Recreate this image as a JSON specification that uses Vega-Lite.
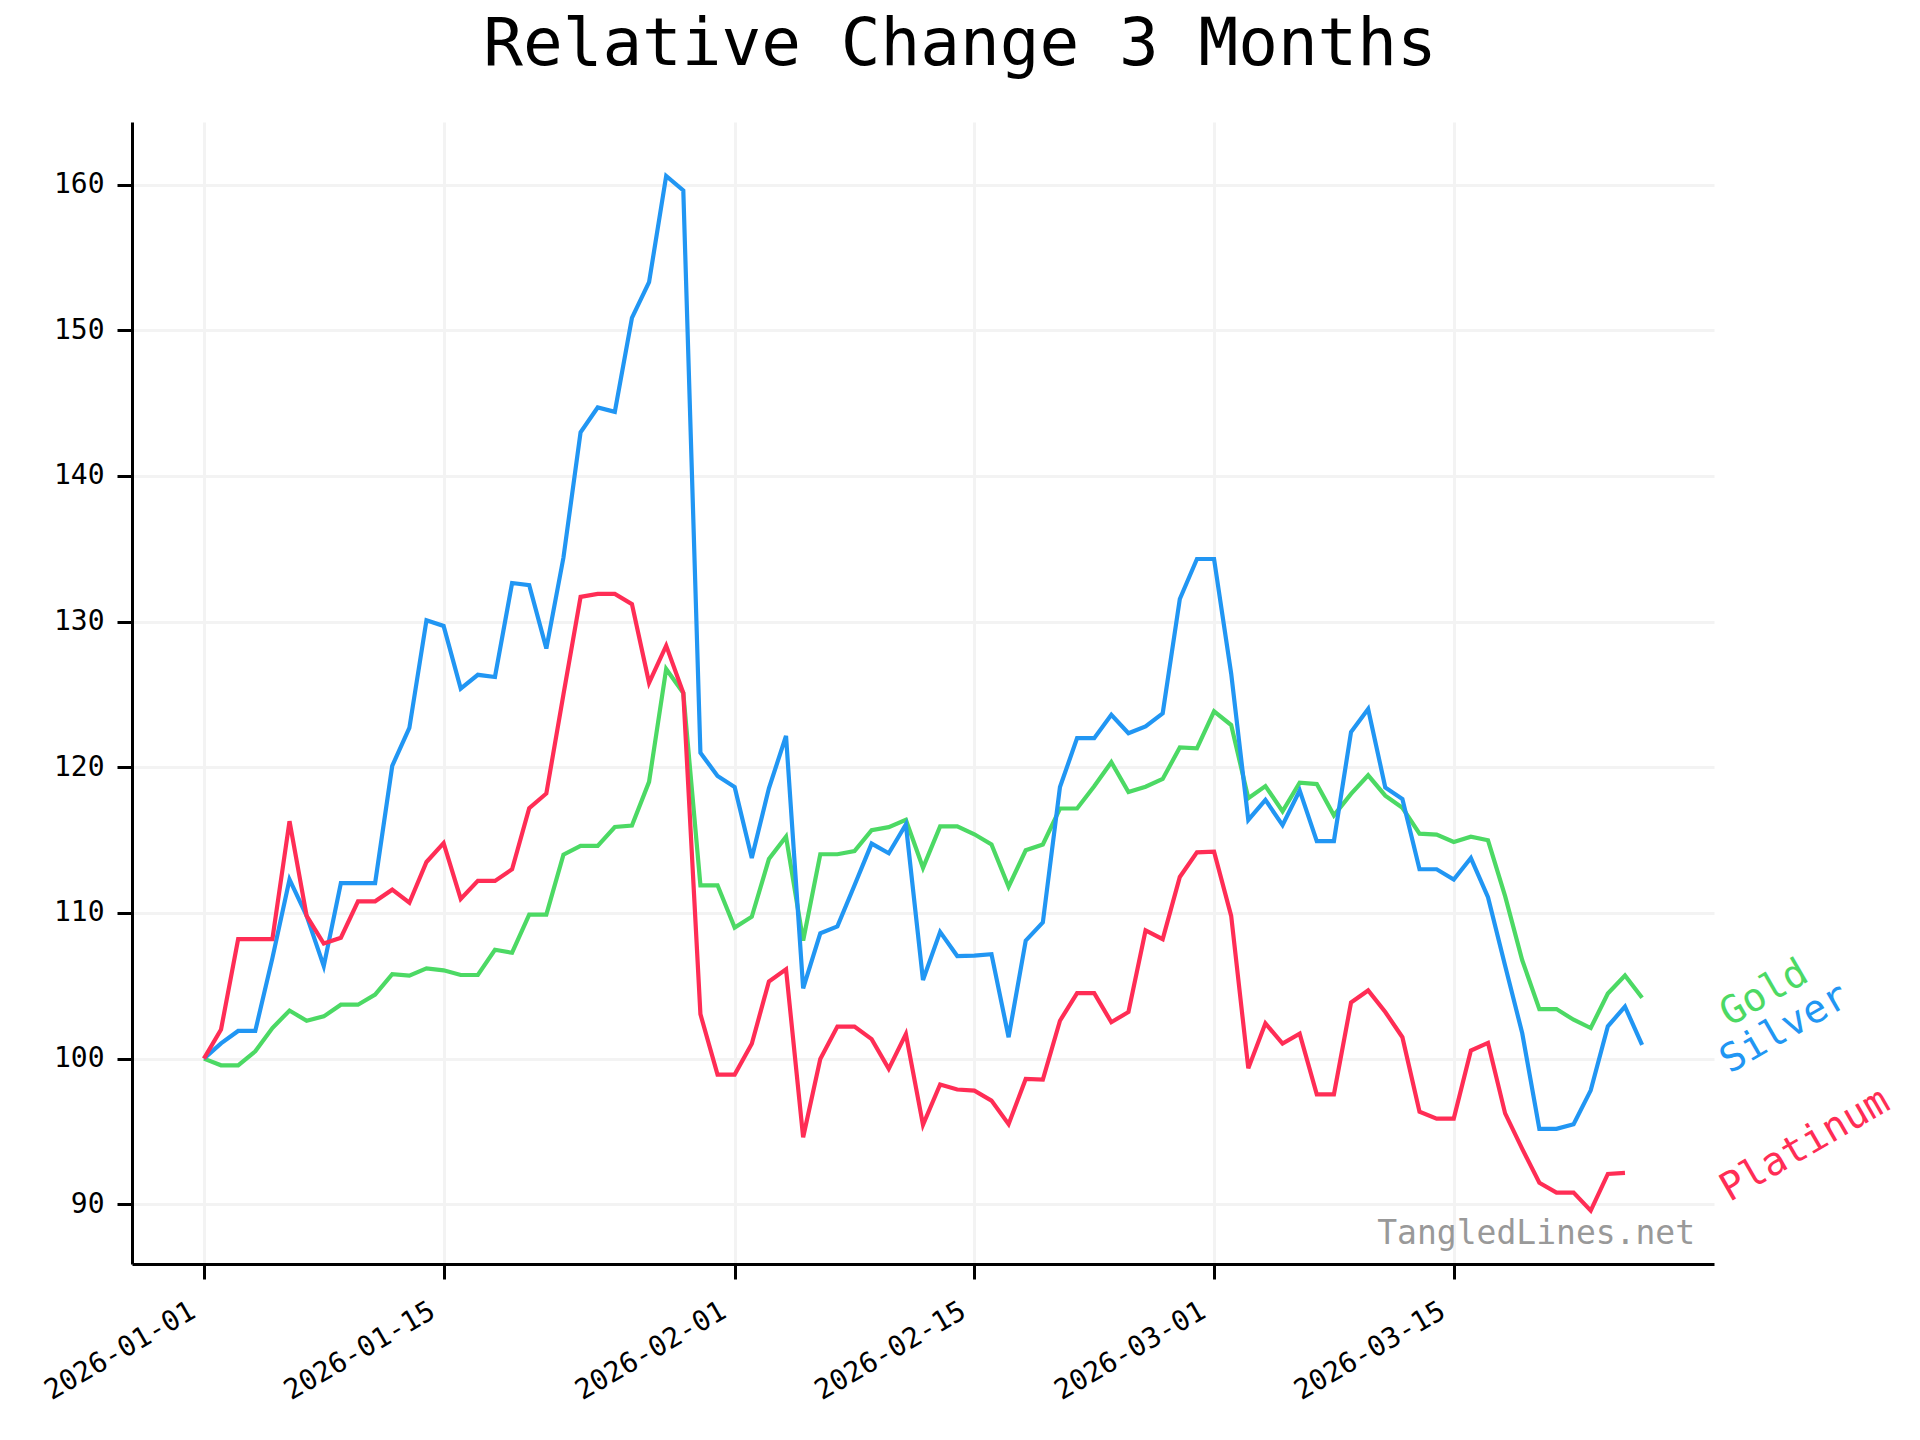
{
  "$schema": "https://vega.github.io/schema/vega-lite/v6.json",
  "autosize": {"type": "none"},
  "width": 1582,
  "height": 1142,
  "padding": {"left": 132, "top": 122, "right": 206, "bottom": 176},
  "background": "white",
  "title": {
    "text": "Relative Change 3 Months",
    "font": "DejaVu Sans Mono",
    "fontSize": 66,
    "fontWeight": "normal",
    "color": "black",
    "anchor": "middle",
    "frame": "group",
    "dx": 37,
    "dy": 66,
    "offset": 57,
    "baseline": "alphabetic"
  },
  "config": {
    "view": {"stroke": null},
    "axis": {
      "labelFont": "DejaVu Sans Mono",
      "labelFontSize": 28,
      "labelColor": "black",
      "domainColor": "black",
      "domainWidth": 3,
      "tickColor": "black",
      "tickWidth": 3,
      "tickSize": 15,
      "gridColor": "#f3f3f3",
      "gridWidth": 3,
      "title": null
    }
  },
  "data": {
    "values": [
      {"date": "2026-01-01", "series": "Gold", "value": 100},
      {"date": "2026-01-02", "series": "Gold", "value": 99.54},
      {"date": "2026-01-03", "series": "Gold", "value": 99.54},
      {"date": "2026-01-04", "series": "Gold", "value": 100.5},
      {"date": "2026-01-05", "series": "Gold", "value": 102.1},
      {"date": "2026-01-06", "series": "Gold", "value": 103.3},
      {"date": "2026-01-07", "series": "Gold", "value": 102.6},
      {"date": "2026-01-08", "series": "Gold", "value": 102.9},
      {"date": "2026-01-09", "series": "Gold", "value": 103.7},
      {"date": "2026-01-10", "series": "Gold", "value": 103.7},
      {"date": "2026-01-11", "series": "Gold", "value": 104.4},
      {"date": "2026-01-12", "series": "Gold", "value": 105.8},
      {"date": "2026-01-13", "series": "Gold", "value": 105.7},
      {"date": "2026-01-14", "series": "Gold", "value": 106.2},
      {"date": "2026-01-15", "series": "Gold", "value": 106.06},
      {"date": "2026-01-16", "series": "Gold", "value": 105.74},
      {"date": "2026-01-17", "series": "Gold", "value": 105.74},
      {"date": "2026-01-18", "series": "Gold", "value": 107.47},
      {"date": "2026-01-19", "series": "Gold", "value": 107.27},
      {"date": "2026-01-20", "series": "Gold", "value": 109.88},
      {"date": "2026-01-21", "series": "Gold", "value": 109.88},
      {"date": "2026-01-22", "series": "Gold", "value": 114.0},
      {"date": "2026-01-23", "series": "Gold", "value": 114.6},
      {"date": "2026-01-24", "series": "Gold", "value": 114.6},
      {"date": "2026-01-25", "series": "Gold", "value": 115.9},
      {"date": "2026-01-26", "series": "Gold", "value": 116.0},
      {"date": "2026-01-27", "series": "Gold", "value": 119.0},
      {"date": "2026-01-28", "series": "Gold", "value": 126.75},
      {"date": "2026-01-29", "series": "Gold", "value": 125.1},
      {"date": "2026-01-30", "series": "Gold", "value": 111.9},
      {"date": "2026-01-31", "series": "Gold", "value": 111.9},
      {"date": "2026-02-01", "series": "Gold", "value": 109.0},
      {"date": "2026-02-02", "series": "Gold", "value": 109.74},
      {"date": "2026-02-03", "series": "Gold", "value": 113.7},
      {"date": "2026-02-04", "series": "Gold", "value": 115.24},
      {"date": "2026-02-05", "series": "Gold", "value": 108.1},
      {"date": "2026-02-06", "series": "Gold", "value": 114.03},
      {"date": "2026-02-07", "series": "Gold", "value": 114.03},
      {"date": "2026-02-08", "series": "Gold", "value": 114.24},
      {"date": "2026-02-09", "series": "Gold", "value": 115.68},
      {"date": "2026-02-10", "series": "Gold", "value": 115.89},
      {"date": "2026-02-11", "series": "Gold", "value": 116.39},
      {"date": "2026-02-12", "series": "Gold", "value": 113.1},
      {"date": "2026-02-13", "series": "Gold", "value": 115.94},
      {"date": "2026-02-14", "series": "Gold", "value": 115.94},
      {"date": "2026-02-15", "series": "Gold", "value": 115.4},
      {"date": "2026-02-16", "series": "Gold", "value": 114.7},
      {"date": "2026-02-17", "series": "Gold", "value": 111.8},
      {"date": "2026-02-18", "series": "Gold", "value": 114.3},
      {"date": "2026-02-19", "series": "Gold", "value": 114.7},
      {"date": "2026-02-20", "series": "Gold", "value": 117.17},
      {"date": "2026-02-21", "series": "Gold", "value": 117.17},
      {"date": "2026-02-22", "series": "Gold", "value": 118.7},
      {"date": "2026-02-23", "series": "Gold", "value": 120.35},
      {"date": "2026-02-24", "series": "Gold", "value": 118.3},
      {"date": "2026-02-25", "series": "Gold", "value": 118.67},
      {"date": "2026-02-26", "series": "Gold", "value": 119.2},
      {"date": "2026-02-27", "series": "Gold", "value": 121.36},
      {"date": "2026-02-28", "series": "Gold", "value": 121.3},
      {"date": "2026-03-01", "series": "Gold", "value": 123.84},
      {"date": "2026-03-02", "series": "Gold", "value": 122.9},
      {"date": "2026-03-03", "series": "Gold", "value": 117.88},
      {"date": "2026-03-04", "series": "Gold", "value": 118.71},
      {"date": "2026-03-05", "series": "Gold", "value": 116.98},
      {"date": "2026-03-06", "series": "Gold", "value": 118.94},
      {"date": "2026-03-07", "series": "Gold", "value": 118.85},
      {"date": "2026-03-08", "series": "Gold", "value": 116.7},
      {"date": "2026-03-09", "series": "Gold", "value": 118.17},
      {"date": "2026-03-10", "series": "Gold", "value": 119.45},
      {"date": "2026-03-11", "series": "Gold", "value": 118.05},
      {"date": "2026-03-12", "series": "Gold", "value": 117.22},
      {"date": "2026-03-13", "series": "Gold", "value": 115.44},
      {"date": "2026-03-14", "series": "Gold", "value": 115.38},
      {"date": "2026-03-15", "series": "Gold", "value": 114.87},
      {"date": "2026-03-16", "series": "Gold", "value": 115.23},
      {"date": "2026-03-17", "series": "Gold", "value": 114.99},
      {"date": "2026-03-18", "series": "Gold", "value": 111.15},
      {"date": "2026-03-19", "series": "Gold", "value": 106.75},
      {"date": "2026-03-20", "series": "Gold", "value": 103.4},
      {"date": "2026-03-21", "series": "Gold", "value": 103.4},
      {"date": "2026-03-22", "series": "Gold", "value": 102.67},
      {"date": "2026-03-23", "series": "Gold", "value": 102.1},
      {"date": "2026-03-24", "series": "Gold", "value": 104.47},
      {"date": "2026-03-25", "series": "Gold", "value": 105.7},
      {"date": "2026-03-26", "series": "Gold", "value": 104.18},

      {"date": "2026-01-01", "series": "Silver", "value": 100},
      {"date": "2026-01-02", "series": "Silver", "value": 101.05},
      {"date": "2026-01-03", "series": "Silver", "value": 101.9},
      {"date": "2026-01-04", "series": "Silver", "value": 101.9},
      {"date": "2026-01-05", "series": "Silver", "value": 106.9},
      {"date": "2026-01-06", "series": "Silver", "value": 112.3},
      {"date": "2026-01-07", "series": "Silver", "value": 109.8},
      {"date": "2026-01-08", "series": "Silver", "value": 106.35},
      {"date": "2026-01-09", "series": "Silver", "value": 112.05},
      {"date": "2026-01-10", "series": "Silver", "value": 112.05},
      {"date": "2026-01-11", "series": "Silver", "value": 112.05},
      {"date": "2026-01-12", "series": "Silver", "value": 120.1},
      {"date": "2026-01-13", "series": "Silver", "value": 122.7},
      {"date": "2026-01-14", "series": "Silver", "value": 130.1},
      {"date": "2026-01-15", "series": "Silver", "value": 129.7},
      {"date": "2026-01-16", "series": "Silver", "value": 125.4},
      {"date": "2026-01-17", "series": "Silver", "value": 126.35},
      {"date": "2026-01-18", "series": "Silver", "value": 126.2},
      {"date": "2026-01-19", "series": "Silver", "value": 132.65},
      {"date": "2026-01-20", "series": "Silver", "value": 132.5},
      {"date": "2026-01-21", "series": "Silver", "value": 128.15},
      {"date": "2026-01-22", "series": "Silver", "value": 134.4},
      {"date": "2026-01-23", "series": "Silver", "value": 143.0},
      {"date": "2026-01-24", "series": "Silver", "value": 144.7},
      {"date": "2026-01-25", "series": "Silver", "value": 144.4},
      {"date": "2026-01-26", "series": "Silver", "value": 150.85},
      {"date": "2026-01-27", "series": "Silver", "value": 153.3},
      {"date": "2026-01-28", "series": "Silver", "value": 160.6},
      {"date": "2026-01-29", "series": "Silver", "value": 159.6},
      {"date": "2026-01-30", "series": "Silver", "value": 121.0},
      {"date": "2026-01-31", "series": "Silver", "value": 119.4},
      {"date": "2026-02-01", "series": "Silver", "value": 118.64},
      {"date": "2026-02-02", "series": "Silver", "value": 113.77},
      {"date": "2026-02-03", "series": "Silver", "value": 118.56},
      {"date": "2026-02-04", "series": "Silver", "value": 122.15},
      {"date": "2026-02-05", "series": "Silver", "value": 104.82},
      {"date": "2026-02-06", "series": "Silver", "value": 108.6},
      {"date": "2026-02-07", "series": "Silver", "value": 109.08},
      {"date": "2026-02-08", "series": "Silver", "value": 111.9},
      {"date": "2026-02-09", "series": "Silver", "value": 114.76},
      {"date": "2026-02-10", "series": "Silver", "value": 114.1},
      {"date": "2026-02-11", "series": "Silver", "value": 116.07},
      {"date": "2026-02-12", "series": "Silver", "value": 105.4},
      {"date": "2026-02-13", "series": "Silver", "value": 108.7},
      {"date": "2026-02-14", "series": "Silver", "value": 107.04},
      {"date": "2026-02-15", "series": "Silver", "value": 107.07},
      {"date": "2026-02-16", "series": "Silver", "value": 107.17},
      {"date": "2026-02-17", "series": "Silver", "value": 101.47},
      {"date": "2026-02-18", "series": "Silver", "value": 108.1},
      {"date": "2026-02-19", "series": "Silver", "value": 109.35},
      {"date": "2026-02-20", "series": "Silver", "value": 118.64},
      {"date": "2026-02-21", "series": "Silver", "value": 122.0},
      {"date": "2026-02-22", "series": "Silver", "value": 122.0},
      {"date": "2026-02-23", "series": "Silver", "value": 123.6},
      {"date": "2026-02-24", "series": "Silver", "value": 122.34},
      {"date": "2026-02-25", "series": "Silver", "value": 122.8},
      {"date": "2026-02-26", "series": "Silver", "value": 123.7},
      {"date": "2026-02-27", "series": "Silver", "value": 131.55},
      {"date": "2026-02-28", "series": "Silver", "value": 134.3},
      {"date": "2026-03-01", "series": "Silver", "value": 134.3},
      {"date": "2026-03-02", "series": "Silver", "value": 126.43},
      {"date": "2026-03-03", "series": "Silver", "value": 116.39},
      {"date": "2026-03-04", "series": "Silver", "value": 117.76},
      {"date": "2026-03-05", "series": "Silver", "value": 116.03},
      {"date": "2026-03-06", "series": "Silver", "value": 118.41},
      {"date": "2026-03-07", "series": "Silver", "value": 114.93},
      {"date": "2026-03-08", "series": "Silver", "value": 114.93},
      {"date": "2026-03-09", "series": "Silver", "value": 122.42},
      {"date": "2026-03-10", "series": "Silver", "value": 124.0},
      {"date": "2026-03-11", "series": "Silver", "value": 118.62},
      {"date": "2026-03-12", "series": "Silver", "value": 117.82},
      {"date": "2026-03-13", "series": "Silver", "value": 113.0},
      {"date": "2026-03-14", "series": "Silver", "value": 113.0},
      {"date": "2026-03-15", "series": "Silver", "value": 112.3},
      {"date": "2026-03-16", "series": "Silver", "value": 113.77},
      {"date": "2026-03-17", "series": "Silver", "value": 111.08},
      {"date": "2026-03-18", "series": "Silver", "value": 106.38},
      {"date": "2026-03-19", "series": "Silver", "value": 101.74},
      {"date": "2026-03-20", "series": "Silver", "value": 95.18},
      {"date": "2026-03-21", "series": "Silver", "value": 95.18},
      {"date": "2026-03-22", "series": "Silver", "value": 95.5},
      {"date": "2026-03-23", "series": "Silver", "value": 97.82},
      {"date": "2026-03-24", "series": "Silver", "value": 102.22},
      {"date": "2026-03-25", "series": "Silver", "value": 103.57},
      {"date": "2026-03-26", "series": "Silver", "value": 100.95},

      {"date": "2026-01-01", "series": "Platinum", "value": 100},
      {"date": "2026-01-02", "series": "Platinum", "value": 102.0},
      {"date": "2026-01-03", "series": "Platinum", "value": 108.2},
      {"date": "2026-01-04", "series": "Platinum", "value": 108.2},
      {"date": "2026-01-05", "series": "Platinum", "value": 108.2},
      {"date": "2026-01-06", "series": "Platinum", "value": 116.3},
      {"date": "2026-01-07", "series": "Platinum", "value": 109.8},
      {"date": "2026-01-08", "series": "Platinum", "value": 107.9},
      {"date": "2026-01-09", "series": "Platinum", "value": 108.3},
      {"date": "2026-01-10", "series": "Platinum", "value": 110.8},
      {"date": "2026-01-11", "series": "Platinum", "value": 110.8},
      {"date": "2026-01-12", "series": "Platinum", "value": 111.6},
      {"date": "2026-01-13", "series": "Platinum", "value": 110.7},
      {"date": "2026-01-14", "series": "Platinum", "value": 113.5},
      {"date": "2026-01-15", "series": "Platinum", "value": 114.8},
      {"date": "2026-01-16", "series": "Platinum", "value": 110.96},
      {"date": "2026-01-17", "series": "Platinum", "value": 112.2},
      {"date": "2026-01-18", "series": "Platinum", "value": 112.2},
      {"date": "2026-01-19", "series": "Platinum", "value": 113.0},
      {"date": "2026-01-20", "series": "Platinum", "value": 117.2},
      {"date": "2026-01-21", "series": "Platinum", "value": 118.2},
      {"date": "2026-01-22", "series": "Platinum", "value": 125.0},
      {"date": "2026-01-23", "series": "Platinum", "value": 131.7},
      {"date": "2026-01-24", "series": "Platinum", "value": 131.9},
      {"date": "2026-01-25", "series": "Platinum", "value": 131.9},
      {"date": "2026-01-26", "series": "Platinum", "value": 131.2},
      {"date": "2026-01-27", "series": "Platinum", "value": 125.8},
      {"date": "2026-01-28", "series": "Platinum", "value": 128.35},
      {"date": "2026-01-29", "series": "Platinum", "value": 125.1},
      {"date": "2026-01-30", "series": "Platinum", "value": 103.05},
      {"date": "2026-01-31", "series": "Platinum", "value": 98.9},
      {"date": "2026-02-01", "series": "Platinum", "value": 98.9},
      {"date": "2026-02-02", "series": "Platinum", "value": 101.02},
      {"date": "2026-02-03", "series": "Platinum", "value": 105.3},
      {"date": "2026-02-04", "series": "Platinum", "value": 106.13},
      {"date": "2026-02-05", "series": "Platinum", "value": 94.6},
      {"date": "2026-02-06", "series": "Platinum", "value": 99.97},
      {"date": "2026-02-07", "series": "Platinum", "value": 102.2},
      {"date": "2026-02-08", "series": "Platinum", "value": 102.2},
      {"date": "2026-02-09", "series": "Platinum", "value": 101.34},
      {"date": "2026-02-10", "series": "Platinum", "value": 99.3},
      {"date": "2026-02-11", "series": "Platinum", "value": 101.68},
      {"date": "2026-02-12", "series": "Platinum", "value": 95.45},
      {"date": "2026-02-13", "series": "Platinum", "value": 98.22},
      {"date": "2026-02-14", "series": "Platinum", "value": 97.88},
      {"date": "2026-02-15", "series": "Platinum", "value": 97.8},
      {"date": "2026-02-16", "series": "Platinum", "value": 97.12},
      {"date": "2026-02-17", "series": "Platinum", "value": 95.5},
      {"date": "2026-02-18", "series": "Platinum", "value": 98.6},
      {"date": "2026-02-19", "series": "Platinum", "value": 98.56},
      {"date": "2026-02-20", "series": "Platinum", "value": 102.6},
      {"date": "2026-02-21", "series": "Platinum", "value": 104.5},
      {"date": "2026-02-22", "series": "Platinum", "value": 104.5},
      {"date": "2026-02-23", "series": "Platinum", "value": 102.5},
      {"date": "2026-02-24", "series": "Platinum", "value": 103.2},
      {"date": "2026-02-25", "series": "Platinum", "value": 108.8},
      {"date": "2026-02-26", "series": "Platinum", "value": 108.2},
      {"date": "2026-02-27", "series": "Platinum", "value": 112.47},
      {"date": "2026-02-28", "series": "Platinum", "value": 114.16},
      {"date": "2026-03-01", "series": "Platinum", "value": 114.2},
      {"date": "2026-03-02", "series": "Platinum", "value": 109.8},
      {"date": "2026-03-03", "series": "Platinum", "value": 99.33},
      {"date": "2026-03-04", "series": "Platinum", "value": 102.42},
      {"date": "2026-03-05", "series": "Platinum", "value": 101.03},
      {"date": "2026-03-06", "series": "Platinum", "value": 101.71},
      {"date": "2026-03-07", "series": "Platinum", "value": 97.55},
      {"date": "2026-03-08", "series": "Platinum", "value": 97.55},
      {"date": "2026-03-09", "series": "Platinum", "value": 103.85},
      {"date": "2026-03-10", "series": "Platinum", "value": 104.68},
      {"date": "2026-03-11", "series": "Platinum", "value": 103.2},
      {"date": "2026-03-12", "series": "Platinum", "value": 101.47},
      {"date": "2026-03-13", "series": "Platinum", "value": 96.36},
      {"date": "2026-03-14", "series": "Platinum", "value": 95.88},
      {"date": "2026-03-15", "series": "Platinum", "value": 95.88},
      {"date": "2026-03-16", "series": "Platinum", "value": 100.56},
      {"date": "2026-03-17", "series": "Platinum", "value": 101.08},
      {"date": "2026-03-18", "series": "Platinum", "value": 96.24},
      {"date": "2026-03-19", "series": "Platinum", "value": 93.8},
      {"date": "2026-03-20", "series": "Platinum", "value": 91.48},
      {"date": "2026-03-21", "series": "Platinum", "value": 90.8},
      {"date": "2026-03-22", "series": "Platinum", "value": 90.8},
      {"date": "2026-03-23", "series": "Platinum", "value": 89.56},
      {"date": "2026-03-24", "series": "Platinum", "value": 92.08},
      {"date": "2026-03-25", "series": "Platinum", "value": 92.15}
    ]
  },
  "encoding": {
    "x": {
      "field": "date",
      "type": "temporal",
      "scale": {
        "type": "utc",
        "domain": [
          {"year": 2025, "month": 12, "date": 27, "hours": 19, "minutes": 12, "utc": true},
          {"year": 2026, "month": 3, "date": 30, "hours": 4, "minutes": 48, "utc": true}
        ]
      },
      "axis": {
        "values": [
          {"year": 2026, "month": 1, "date": 1, "utc": true},
          {"year": 2026, "month": 1, "date": 15, "utc": true},
          {"year": 2026, "month": 2, "date": 1, "utc": true},
          {"year": 2026, "month": 2, "date": 15, "utc": true},
          {"year": 2026, "month": 3, "date": 1, "utc": true},
          {"year": 2026, "month": 3, "date": 15, "utc": true}
        ],
        "format": "%Y-%m-%d",
        "labelAngle": -30,
        "labelAlign": "right",
        "labelBaseline": "bottom",
        "labelPadding": 42,
        "labelOffset": -4,
        "grid": true
      }
    },
    "y": {
      "field": "value",
      "type": "quantitative",
      "scale": {"domain": [85.9, 164.3], "nice": false, "zero": false},
      "axis": {
        "values": [90, 100, 110, 120, 130, 140, 150, 160],
        "labelPadding": 13,
        "grid": true
      }
    },
    "color": {
      "field": "series",
      "type": "nominal",
      "scale": {
        "domain": ["Gold", "Silver", "Platinum"],
        "range": ["#4cd964", "#2196f3", "#ff2d55"]
      },
      "legend": null
    }
  },
  "layer": [
    {
      "mark": {"type": "line", "strokeWidth": 4.2, "clip": true}
    },
    {
      "transform": [
        {"window": [{"op": "rank", "as": "r"}], "sort": [{"field": "date", "order": "descending"}], "groupby": ["series"]},
        {"filter": "datum.r == 1"},
        {"joinaggregate": [{"op": "max", "field": "date", "as": "xmax"}]}
      ],
      "mark": {
        "type": "text",
        "font": "DejaVu Sans Mono",
        "fontSize": 39,
        "angle": 330,
        "align": "left",
        "baseline": "alphabetic",
        "dx": 61,
        "dy": 69
      },
      "encoding": {
        "x": {"field": "xmax", "type": "temporal"},
        "text": {"field": "series"}
      }
    },
    {
      "transform": [
        {"aggregate": [
          {"op": "max", "field": "date", "as": "xmax"},
          {"op": "min", "field": "value", "as": "ymin"}
        ]}
      ],
      "mark": {
        "type": "text",
        "font": "DejaVu Sans Mono",
        "fontSize": 33,
        "align": "right",
        "baseline": "alphabetic",
        "color": "#999999",
        "dx": 53,
        "dy": 33
      },
      "encoding": {
        "x": {"field": "xmax", "type": "temporal"},
        "y": {"field": "ymin", "type": "quantitative"},
        "text": {"value": "TangledLines.net"},
        "color": {"value": "#999999"}
      }
    }
  ]
}
